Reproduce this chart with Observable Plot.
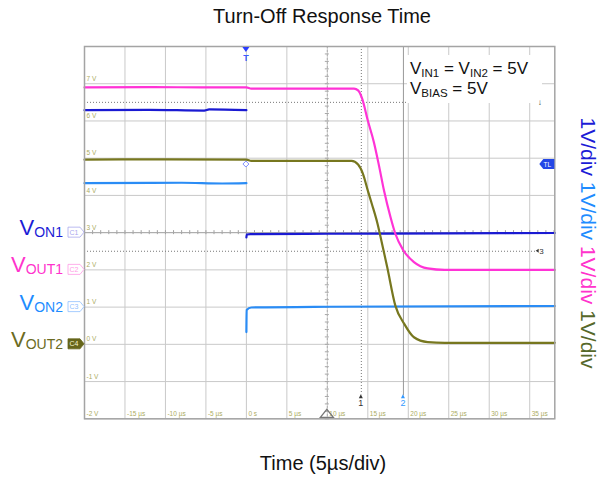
<!DOCTYPE html>
<html><head><meta charset="utf-8">
<script src="https://cdn.jsdelivr.net/npm/d3@7"></script>
<script src="https://cdn.jsdelivr.net/npm/@observablehq/plot@0.6"></script>
<style>body{margin:0;background:#fff;} svg{display:block;}</style>
</head><body><div id="chart"></div>
<script>
// ---- axis ticks & labels ----
const timeTicks = [-20,-15,-10,-5,0,5,10,15,20,25,30,35];
const timeLabels = ["-15 µs","-10 µs","-5 µs","0 s","5 µs","10 µs","15 µs","20 µs","25 µs","30 µs","35 µs"];
const voltTicks = [-2,-1,0,1,2,3,4,5,6,7,8];
const voltLabels = ["-2 V","-1 V","0 V","1 V","2 V","3 V","4 V","5 V","6 V","7 V"];
const timeDomain = [-20, 38.1];
const voltDomain = [-2, 8];

// ---- channels ----
const channelSubs = ["ON1","OUT1","ON2","OUT2"];
const channelLevels = [3, 2, 1, 0];
const channelTags = ["C1","C2","C3","C4"];
const channelColors = ["#1c1cd6","#ff33cc","#1e8cff","#6b6b22"];
const traceColors = ["#1a1ad2","#ff33d6","#2a8cf5","#77771f"];

// ---- traces [time µs, volts] ----
const VON1 = [[-20,6.29],[-12,6.30],[-5.2,6.28],[-4.6,6.31],[0,6.29],[0,NaN],
  [0,2.87],[0.05,2.95],[0.5,2.96],[10,2.97],[25,2.98],[38.1,2.99]];
const VOUT1 = [[-20,6.90],[-12,6.91],[-5,6.90],[0,6.90],[0.6,6.87],[8,6.87],[13.3,6.87],
  [13.8,6.82],[14.3,6.60],[15.0,6.01],[15.75,5.43],[16.4,4.78],[17.0,4.13],[17.8,3.42],
  [18.4,2.97],[19.4,2.52],[20.7,2.21],[22.4,2.04],[24.5,2.0],[38.1,2.0]];
const VON2 = [[-20,4.33],[-8,4.34],[-3,4.32],[0,4.33],[0,NaN],
  [0,0.33],[0.03,0.92],[0.6,0.99],[10,1.01],[38.1,1.03]];
const VOUT2 = [[-20,4.96],[-10,4.97],[0,4.96],[0.6,4.93],[8,4.93],[13.0,4.93],[13.8,4.83],
  [14.4,4.58],[15.0,4.13],[15.5,3.77],[16.2,3.24],[16.5,2.96],[17.4,2.07],[18.4,1.04],
  [19.5,0.55],[20.7,0.19],[22.4,0.06],[24.5,0.04],[38.1,0.04]];
const traces = [VON1, VOUT1, VON2, VOUT2];

// ---- cursors / markers ----
const cursorTimes = [14.2, 19.4];
const cursorVolts = [6.5, 2.5];
const triggerLevel = 4.83;
const centerTime = 10, centerVolt = 3;

const font = "'Liberation Sans', Arial, sans-serif";
const gridColor = "#c9c9c9";
const labelColor = "#acac62";

const minorT = d3.range(-20, 38.1, 1);
const minorV = d3.range(-2, 8.01, 0.2);

const timeLabelData = timeTicks.slice(1).map((t, i) => ({t, s: timeLabels[i]}));
const voltLabelData = voltTicks.slice(0, voltLabels.length).map((v, i) => ({v, s: voltLabels[i]}));

const val = d => d[0], vol = d => d[1];

const chart = Plot.plot({
  width: 611, height: 478,
  marginLeft: 84, marginRight: 56.7, marginTop: 46, marginBottom: 59.7,
  x: {domain: timeDomain, axis: null},
  y: {domain: voltDomain, axis: null},
  style: {fontFamily: font, background: "#fff"},
  marks: [
    Plot.ruleX(timeTicks, {stroke: gridColor, strokeWidth: 1}),
    Plot.ruleY(voltTicks, {stroke: gridColor, strokeWidth: 1}),
    // center minor ticks
    Plot.ruleX(minorT, {y1: centerVolt, y2: centerVolt, insetTop: -2, insetBottom: -2, stroke: "#a0a0a0"}),
    Plot.ruleY(minorV, {x1: centerTime, x2: centerTime, insetLeft: -2, insetRight: -2, stroke: "#a8a8a8"}),
    Plot.ruleY([centerVolt], {stroke: "#a8a8a8"}),
    Plot.ruleX([centerTime], {stroke: "#b0b0b0", strokeDasharray: "2,2"}),
    // cursors
    Plot.ruleY(cursorVolts, {x1: -20, x2: 35.8, stroke: "#777", strokeDasharray: "1,2"}),
    Plot.ruleX([cursorTimes[0]], {insetBottom: 24, stroke: "#777", strokeDasharray: "1,2"}),
    Plot.ruleX([cursorTimes[1]], {insetBottom: 23, stroke: "#999"}),
    // tick labels
    Plot.text(voltLabelData, {x: timeDomain[0], y: "v", text: "s", dx: 2, dy: -5, textAnchor: "start", fontSize: 6.5, fill: labelColor}),
    Plot.text(timeLabelData, {x: "t", y: voltDomain[0], text: "s", dx: 2, dy: -5, textAnchor: "start", fontSize: 6.5, fill: labelColor}),
    // traces
    ...traces.map((tr, i) => Plot.line(tr, {x: val, y: vol, stroke: traceColors[i], strokeWidth: 2.2, curve: "monotone-x"})),
    Plot.frame({stroke: "#a4a4a4", strokeWidth: 1.5})
  ]
});
document.getElementById("chart").appendChild(chart);

const sx = chart.scale("x"), sy = chart.scale("y");
const X = v => sx.apply(v), Y = v => sy.apply(v);
const svg = d3.select(chart);
const g = svg.append("g").attr("font-family", font).attr("text-anchor", "start");

// title & x label
g.append("text").attr("x", 322).attr("y", 23).attr("text-anchor", "middle")
  .attr("font-size", 20).attr("fill", "#111").text("Turn-Off Response Time");
g.append("text").attr("x", 323).attr("y", 470).attr("text-anchor", "middle")
  .attr("font-size", 20).attr("fill", "#111").text("Time (5µs/div)");

// channel labels and tags
channelSubs.forEach((sub, i) => {
  const y = Y(channelLevels[i]);
  const t = g.append("text").attr("x", 63).attr("y", y + 3).attr("text-anchor", "end").attr("fill", channelColors[i]);
  t.append("tspan").attr("font-size", 22).text("V");
  t.append("tspan").attr("font-size", 14).attr("dy", 2).text(sub);
  const x0 = X(timeDomain[0]);
  const filled = i === 3;
  const lc = ["#a8a8ee","#ff9be6","#8fbfff"][i];
  g.append("path")
    .attr("d", `M${x0-16},${y-5}H${x0-4}L${x0},${y}L${x0-4},${y+5}H${x0-16}Z`)
    .attr("fill", filled ? "#66661a" : "#fff").attr("stroke", filled ? "#66661a" : lc).attr("stroke-width", 0.8);
  g.append("text").attr("x", x0 - 10).attr("y", y + 2.5).attr("text-anchor", "middle")
    .attr("font-size", 7).attr("fill", filled ? "#f4f4d0" : lc).text(channelTags[i]);
});

// right side scale labels
const rt = g.append("text").attr("transform", "translate(588,243) rotate(90)")
  .attr("text-anchor", "middle").attr("dy", "0.35em").attr("font-size", 21);
const divCols = ["#1c1cd6", "#1e8cff", "#ff33cc", "#56682a"];
divCols.forEach((c, i) => rt.append("tspan").attr("fill", c).text((i ? " " : "") + "1V/div"));

// annotation box
g.append("rect").attr("x", 407).attr("y", 55).attr("width", 135).attr("height", 48).attr("fill", "#fff");
const a1 = g.append("text").attr("x", 410).attr("y", 73.5).attr("font-size", 17).attr("fill", "#111");
a1.append("tspan").text("V");
a1.append("tspan").attr("font-size", 11.5).attr("dy", 3).text("IN1");
a1.append("tspan").attr("dy", -3).text(" = V");
a1.append("tspan").attr("font-size", 11.5).attr("dy", 3).text("IN2");
a1.append("tspan").attr("dy", -3).text(" = 5V");
const a2 = g.append("text").attr("x", 410).attr("y", 94).attr("font-size", 17).attr("fill", "#111");
a2.append("tspan").text("V");
a2.append("tspan").attr("font-size", 11.5).attr("dy", 3).text("BIAS");
a2.append("tspan").attr("dy", -3).text(" = 5V");

// trigger marker top
const xt = X(0), yTop = Y(voltDomain[1]);
g.append("path").attr("d", `M${xt-3.5},${yTop+1}H${xt+3.5}L${xt},${yTop+6}Z`).attr("fill", "#2a3cff");
g.append("text").attr("x", xt).attr("y", yTop + 15).attr("text-anchor", "middle").attr("font-size", 9)
  .attr("font-weight", "bold").attr("fill", "#3a5cff").text("T");
// trigger level diamond and TL tag
const yl = Y(triggerLevel), xr = X(timeDomain[1]);
g.append("path").attr("d", `M${xt},${yl-3}L${xt+3},${yl}L${xt},${yl+3}L${xt-3},${yl}Z`)
  .attr("fill", "#fff").attr("stroke", "#7f8fff").attr("stroke-width", 1);
g.append("path").attr("d", `M${xr},${yl-5}H${xr-11}L${xr-15},${yl}L${xr-11},${yl+5}H${xr}Z`).attr("fill", "#2447e6");
g.append("text").attr("x", xr - 7).attr("y", yl + 2.5).attr("text-anchor", "middle").attr("font-size", 6.5)
  .attr("fill", "#fff").text("TL");
// horizontal cursor end markers
const xc = X(35.8);
g.append("path").attr("d", `M${xc},${Y(2.5)}l3,-2v4z`).attr("fill", "#333");
g.append("text").attr("x", xc + 3.5).attr("y", Y(2.5) + 3).attr("font-size", 8).attr("fill", "#333").text("3");
g.append("text").attr("x", xc + 2).attr("y", Y(6.5) + 3).attr("font-size", 8).attr("fill", "#333").text("↓");
// bottom markers
const yb = Y(voltDomain[0]);
const xcn = X(centerTime);
g.append("path").attr("d", `M${xcn-6.5},${yb-1}L${xcn},${yb-9}L${xcn+6.5},${yb-1}Z`)
  .attr("fill", "none").attr("stroke", "#777").attr("stroke-width", 1.3);
[["1", "#333"], ["2", "#3399ff"]].forEach(([s, c], i) => {
  const x = X(cursorTimes[i]);
  g.append("path").attr("d", `M${x},${yb-24}l2,4h-4z`).attr("fill", c);
  g.append("text").attr("x", x).attr("y", yb - 12).attr("text-anchor", "middle").attr("font-size", 9).attr("fill", c).text(s);
});
</script></body></html>
